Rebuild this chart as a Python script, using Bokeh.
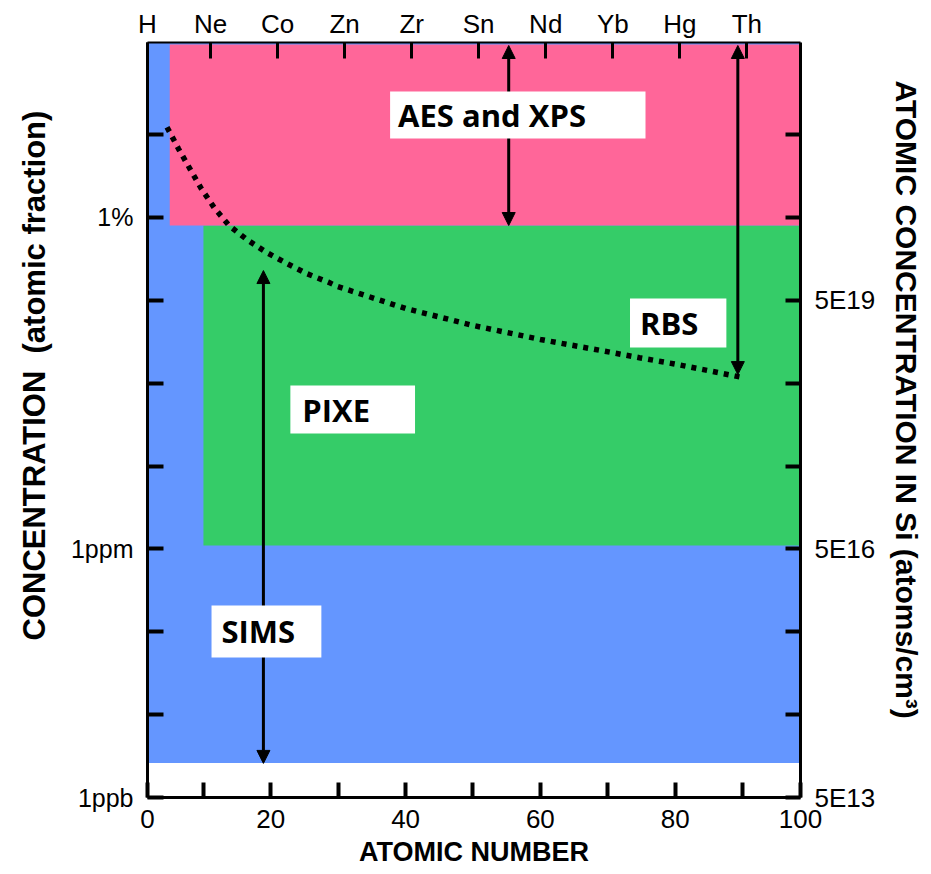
import math
from bokeh.plotting import figure
from bokeh.models import (Range1d, LinearAxis, LogAxis, FixedTicker, Arrow, NormalHead,
                          BoxAnnotation, Label, Title)
from bokeh.embed import file_html
from bokeh.resources import INLINE

# ---------------- data ----------------
techniques = ["SIMS", "PIXE", "AES and XPS"]
tech_z_min = [0, 10, 5]
tech_z_max = [100, 100, 100]
tech_conc_min = [2.6e-9, 1.1e-6, 8.0e-3]
tech_conc_max = [2.0, 8.0e-3, 1.22]
tech_colors = ["#6496ff", "#35cc68", "#ff6699"]

# RBS detection limit (dotted curve)
rbs_z = [4.6, 6.3, 8.0, 9.7, 11.6, 13.8, 16.5, 19.3, 22.3, 25.4, 28.5, 29.9,
         40, 50, 60, 69.6, 74.7, 79.7, 84.9, 89.8, 90.3]
rbs_conc = [0.123, 0.0675, 0.0387, 0.0222, 0.0131, 0.0080, 0.00538, 0.00381,
            0.00281, 0.00209, 0.00166, 0.00147, 7.98e-4, 4.98e-4, 3.37e-4,
            2.43e-4, 2.03e-4, 1.72e-4, 1.42e-4, 1.18e-4, 1.14e-4]

bottom_tick_values = [1.7, 10, 20, 30, 40, 50, 60, 70, 80, 90, 98.6]
bottom_tick_labels = ["0", "", "20", "", "40", "", "60", "", "80", "", "100"]
top_tick_values = [0.6, 10, 20, 30, 40, 50, 60, 70, 80, 90]
top_tick_labels = ["H", "Ne", "Co", "Zn", "Zr", "Sn", "Nd", "Yb", "Hg", "Th"]
conc_tick_values = [1e-9, 1e-8, 1e-7, 1e-6, 1e-5, 1e-4, 1e-3, 1e-2, 1e-1]
left_tick_labels = ["1ppb", "", "", "1ppm", "", "", "", "1%", ""]
right_tick_labels = ["5E13", "", "", "5E16", "", "", "5E19", "", ""]

# ---------------- figure ----------------
p = figure(width=931, height=874, output_backend="svg", toolbar_location=None,
           x_range=Range1d(1.7, 98.6), y_range=Range1d(1e-9, 1.294),
           y_axis_type="log",
           min_border_left=147, min_border_right=130,
           min_border_top=42, min_border_bottom=77)
p.extra_x_ranges = {"top": Range1d(0.6, 98.0)}
p.grid.visible = False
p.outline_line_color = None
p.background_fill_color = "white"
p.border_fill_color = "white"

TICK_FONT = "Liberation Sans"


def style_axis(ax, values, labels, size, standoff, tick_len, line_w=3, tick_w=4):
    ax.ticker = FixedTicker(ticks=values, minor_ticks=[])
    ax.major_label_overrides = {v: l for v, l in zip(values, labels)}
    ax.major_tick_in = tick_len
    ax.major_tick_out = 0
    ax.minor_tick_line_color = None
    ax.major_tick_line_width = tick_w
    ax.major_tick_line_color = "black"
    ax.axis_line_width = line_w
    ax.axis_line_color = "black"
    ax.major_label_text_font = TICK_FONT
    ax.major_label_text_font_size = size
    ax.major_label_text_color = "black"
    ax.major_label_standoff = standoff


# bottom axis
xb = p.xaxis[0]
style_axis(xb, bottom_tick_values, bottom_tick_labels, "26px", 12, 15)
xb.axis_label = "ATOMIC NUMBER"
xb.axis_label_text_font = TICK_FONT
xb.axis_label_text_font_style = "bold"
xb.axis_label_text_font_size = "27px"
xb.axis_label_text_color = "black"
xb.axis_label_standoff = 6

# left axis
yl = p.yaxis[0]
style_axis(yl, conc_tick_values, left_tick_labels, "25px", 14, 16)

# top axis (element symbols)
xt = LinearAxis(x_range_name="top")
style_axis(xt, top_tick_values, top_tick_labels, "26px", 4, 16, line_w=2, tick_w=3)
p.add_layout(xt, "above")

# right axis (atoms/cm3 in Si)
yr = LogAxis()
style_axis(yr, conc_tick_values, right_tick_labels, "26px", 14, 15)
p.add_layout(yr, "right")

# side titles
p.add_layout(Title(text="CONCENTRATION\u00a0\u00a0(atomic fraction)", align="left",
                   offset=157, vertical_align="top", standoff=28,
                   text_font=TICK_FONT, text_font_style="bold",
                   text_font_size="31px", text_color="black"), "left")
p.add_layout(Title(text="ATOMIC CONCENTRATION IN Si (atoms/cm\u00b3)", align="left",
                   offset=38, vertical_align="top", standoff=18,
                   text_font=TICK_FONT, text_font_style="bold",
                   text_font_size="30px", text_color="black"), "right")

# ---------------- regions ----------------
p.quad(left=tech_z_min, right=tech_z_max, bottom=tech_conc_min, top=tech_conc_max,
       fill_color=tech_colors, line_color=None)

# RBS dotted curve
p.line(rbs_z, rbs_conc, line_color="black", line_width=5.5, line_dash="5 6")

# ---------------- arrows ----------------
arrow_specs = [
    (55.3, 8.0e-3, 1.19),      # AES and XPS range
    (89.3, 1.27e-4, 1.19),     # RBS range at Th
    (18.9, 2.58e-9, 2.29e-3),  # SIMS range
]
for ax_, y0, y1 in arrow_specs:
    p.add_layout(Arrow(
        start=NormalHead(size=13, fill_color="black", line_color="black", line_width=1),
        end=NormalHead(size=13, fill_color="black", line_color="black", line_width=1),
        x_start=ax_, y_start=y0, x_end=ax_, y_end=y1,
        line_color="black", line_width=3))

# ---------------- label boxes ----------------
box_specs = [
    ("AES and XPS", 37.7, 75.6, 0.0897, 0.332, 8),
    ("SIMS", 11.2, 27.5, 4.90e-8, 2.08e-7, 10),
    ("RBS", 73.3, 87.6, 2.70e-4, 1.05e-3, 10),
    ("PIXE", 22.9, 41.4, 2.47e-5, 9.38e-5, 12),
]
for text, l, r, b, t, pad in box_specs:
    p.add_layout(BoxAnnotation(left=l, right=r, bottom=b, top=t,
                               fill_color="white", fill_alpha=1.0,
                               line_color=None))
for text, l, r, b, t, pad in box_specs:
    p.add_layout(Label(x=l, y=math.sqrt(b * t), x_offset=pad, text=text,
                       text_font="Open Sans", text_font_style="bold",
                       text_font_size="31px", text_color="black",
                       text_align="left", text_baseline="middle"))

open("out.html", "w").write(file_html(p, INLINE))
